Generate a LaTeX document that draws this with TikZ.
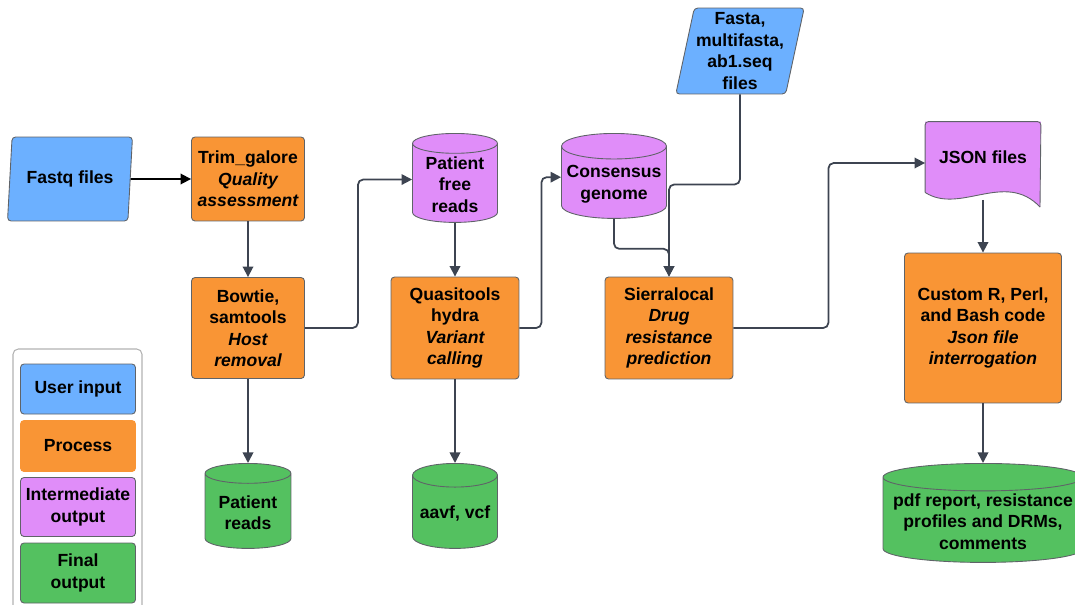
\documentclass[tikz,border=0pt]{standalone}
\usepackage{fontspec}
\setmainfont{Liberation Sans}
\usetikzlibrary{shapes.geometric,arrows.meta}
\definecolor{userblue}{HTML}{6CB0FF}
\definecolor{procorange}{HTML}{F99535}
\definecolor{interpurple}{HTML}{E08DF9}
\definecolor{finalgreen}{HTML}{54C160}
\definecolor{edgegray}{HTML}{5F6368}
\definecolor{linkgray}{HTML}{3D4451}

\tikzset{
	base/.style={draw=edgegray, line width=0.5pt, align=center, inner sep=1pt,
		font=\fontsize{10}{12.2}\selectfont\bfseries},
	procbox/.style={base, fill=procorange, rounded corners=2pt},
	inbox/.style={base, fill=userblue, trapezium, trapezium left angle=77,
		trapezium right angle=103, trapezium stretches body, rounded corners=2pt},
	dbase/.style={base, cylinder, shape border rotate=90, anchor=north},
	keybox/.style={base, rounded corners=2pt, minimum width=2.3cm},
	flow/.style={-{Triangle[length=6pt,width=6pt]}, linkgray, line width=1pt, rounded corners=3pt},
}

\begin{document}
\begin{tikzpicture}[x=0.02cm, y=-0.02cm]
					\useasboundingbox (0,0) rectangle (1075,605);
					%% ========================================================
					\node[inbox, minimum width=2.5cm, minimum height=1.68cm] (fastq) at (70,179) {Fastq files};
					\node[procbox, minimum width=2.26cm, minimum height=1.68cm] (trim) at (248,179) {Trim\_galore\\\itshape Quality\\\itshape assessment};
					\node[procbox, minimum width=2.26cm, minimum height=2.02cm] (bowtie) at (248,328) {Bowtie,\\samtools\\\itshape Host\\\itshape removal};
					\node[dbase, fill=finalgreen, aspect=0.32, minimum width=1.72cm, minimum height=1.7cm] (preads) at (248,463) {Patient\\reads};

					\node[dbase, fill=interpurple, aspect=0.32, minimum width=1.7cm, minimum height=1.78cm] (pfree) at (455,133) {Patient\\free\\reads};
					\node[procbox, minimum width=2.56cm, minimum height=2.04cm] (quasi) at (455,328) {Quasitools\\hydra\\\itshape Variant\\\itshape calling};
					\node[dbase, fill=finalgreen, aspect=0.32, minimum width=1.7cm, minimum height=1.7cm] (aavf) at (455,463) {aavf, vcf};

					\node[dbase, fill=interpurple, aspect=0.26, minimum width=2.1cm, minimum height=1.7cm] (consensus) at (614,133) {Consensus\\genome};
					\node[inbox, minimum width=2.52cm, minimum height=1.72cm] (fasta) at (740,51) {Fasta,\\multifasta,\\ab1.seq\\files};
					\node[procbox, minimum width=2.56cm, minimum height=2.04cm] (sierra) at (669,328) {Sierralocal\\\itshape Drug\\\itshape resistance\\\itshape prediction};

					\node[base, draw=none, minimum width=2.3cm, minimum height=1.4cm] (json) at (983,157) {};
					\fill[interpurple] (json.north west) -- (json.north east) -- (1040,207)
						.. controls (1005,170) and (960,215) .. (json.south west) -- cycle;
					\draw[edgegray, line width=0.5pt, rounded corners=2pt] (json.south west) -- (json.north west) -- (json.north east) -- (1040,207);
					\draw[edgegray, line width=0.5pt] (1040,207) .. controls (1005,170) and (960,215) .. (json.south west);
					\node[base, draw=none] (jsontext) at (json) {JSON files};
					\node[procbox, minimum width=3.14cm, minimum height=3cm] (custom) at (983,328) {Custom R, Perl,\\and Bash code\\\itshape Json file\\\itshape interrogation};
					\node[dbase, fill=finalgreen, aspect=0.15, minimum width=4cm, minimum height=1.98cm] (pdf) at (983,463) {pdf report, resistance\\profiles and DRMs,\\comments};
					%% ========================================================
					\draw[flow, black] (fastq) -- (trim);
					\draw[flow] (trim) -- (bowtie);
					\draw[flow] (bowtie) -- (preads);
					\draw[flow] (bowtie.east) -- ++(53,0) |- ([yshift=0.1cm]pfree.west);
					\draw[flow] (pfree) -- (quasi);
					\draw[flow] (quasi) -- (aavf);
					\draw[flow] (quasi.east) -- ++(22,0) |- ([yshift=0.14cm]consensus.west);
					\draw[flow] (consensus.south) -- ++(0,30) -| (sierra.north);
					\draw[flow] (fasta.center |- fasta.south) -- ++(0,90) -| (sierra.north);
					\draw[flow] (sierra.east) -- ++(95,0) |- ([yshift=-0.12cm]json.west);
					\draw[flow] ([yshift=-0.86cm]json.center) -- (custom);
					\draw[flow] (custom) -- (pdf);
					%% ========================================================
					\draw[gray!60, line width=0.6pt, rounded corners=3pt] (13,610) -- (13,349) -- (142,349) -- (142,610);
					\node[keybox, fill=userblue, minimum height=1cm] (kuser) at (78,389) {User input};
					\node[keybox, fill=procorange, draw=procorange, minimum height=1.02cm] (kproc) at (78,446) {Process};
					\node[keybox, fill=interpurple, minimum height=1.18cm] (kinter) at (78,507) {Intermediate\\output};
					\node[keybox, fill=finalgreen, minimum height=1.2cm] (kfinal) at (78,573) {Final\\output};
					%% ========================================================
				\end{tikzpicture}
\end{document}
